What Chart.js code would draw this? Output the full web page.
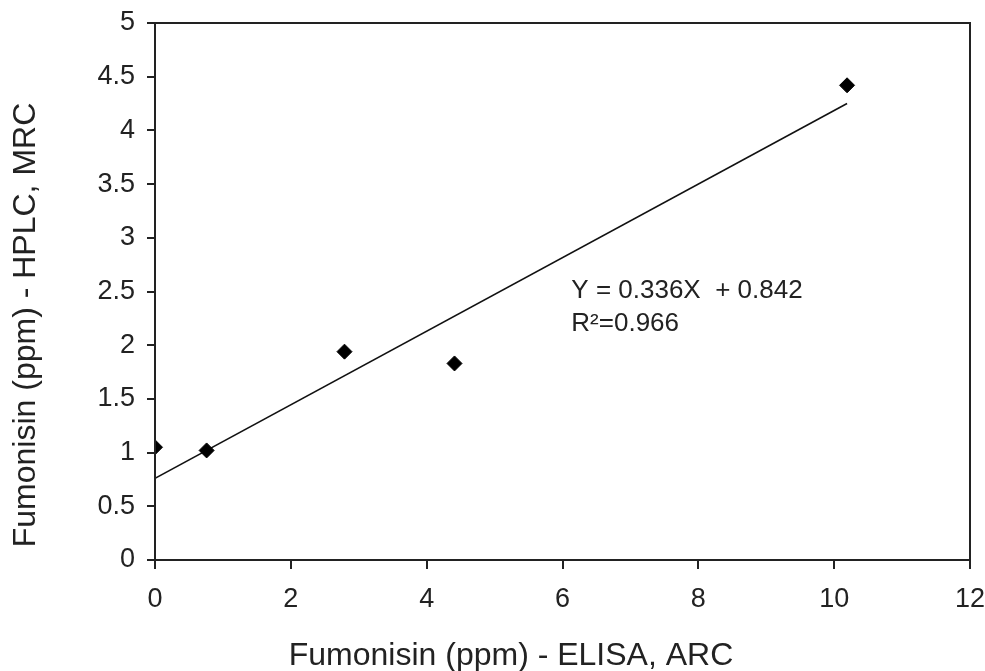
<!DOCTYPE html>
<html>
<head>
<meta charset="utf-8">
<script src="https://cdn.jsdelivr.net/npm/chart.js@4.4.1/dist/chart.umd.min.js"></script>
<style>
html,body{margin:0;padding:0;background:#fff;}
canvas{display:block;}
</style>
</head>
<body>
<canvas id="c" width="985" height="671"></canvas>
<script>
// Data
const elisaX = [0, 0.76, 2.79, 4.41, 10.19];
const hplcY  = [1.05, 1.02, 1.94, 1.83, 4.42];
const trendX = [0, 10.19];
const trendY = [0.76, 4.25];
const xTicks = [0, 2, 4, 6, 8, 10, 12];
const yTicks = [0, 0.5, 1, 1.5, 2, 2.5, 3, 3.5, 4, 4.5, 5];
const xTitle = 'Fumonisin (ppm) - ELISA, ARC';
const yTitle = 'Fumonisin (ppm) - HPLC, MRC';
const eqLines = ['Y = 0.336X  + 0.842', 'R²=0.966'];

const FONT = '"Liberation Sans", Arial, sans-serif';
const INK = '#222';

const framePlugin = {
  id: 'frame',
  afterDatasetsDraw(chart) {
    const {ctx, chartArea: a, scales} = chart;
    ctx.save();
    ctx.strokeStyle = INK;
    ctx.lineWidth = 2;
    ctx.strokeRect(a.left, a.top, a.right - a.left, a.bottom - a.top);
    // equation annotation
    ctx.fillStyle = INK;
    ctx.font = '26px ' + FONT;
    ctx.textAlign = 'left';
    ctx.textBaseline = 'alphabetic';
    const ex = scales.x.getPixelForValue(6.13);
    const ey = scales.y.getPixelForValue(2.44);
    ctx.fillText(eqLines[0], ex, ey);
    ctx.fillText(eqLines[1], ex, ey + 33);
    // axis titles
    ctx.font = '32px ' + FONT;
    ctx.textAlign = 'center';
    ctx.fillText(xTitle, 511, 665);
    ctx.translate(35, 325);
    ctx.rotate(-Math.PI / 2);
    ctx.fillText(yTitle, 0, 0);
    ctx.restore();
  }
};

new Chart(document.getElementById('c'), {
  type: 'scatter',
  data: {
    datasets: [
      {
        label: 'Samples',
        data: elisaX.map((x, i) => ({x: x, y: hplcY[i]})),
        pointStyle: 'rectRot',
        pointRadius: 7.5,
        pointBackgroundColor: '#000',
        pointBorderColor: '#000',
        borderWidth: 1,
        showLine: false,
        order: 1
      },
      {
        label: 'Trend',
        data: trendX.map((x, i) => ({x: x, y: trendY[i]})),
        showLine: true,
        borderColor: '#111',
        borderWidth: 1.6,
        pointRadius: 0,
        fill: false,
        order: 2
      }
    ]
  },
  options: {
    responsive: false,
    animation: false,
    devicePixelRatio: 1,
    layout: {padding: {left: 0, right: 15, top: 23, bottom: 0}},
    plugins: {legend: {display: false}, tooltip: {enabled: false}},
    scales: {
      x: {
        type: 'linear',
        min: 0, max: 12,
        afterBuildTicks(s) { s.ticks = xTicks.map(v => ({value: v})); },
        afterFit(s) { s.height = 111; s.paddingLeft = 0; s.paddingRight = 0; },
        grid: {drawOnChartArea: false, drawTicks: true, tickLength: 9, color: INK, lineWidth: 2},
        border: {display: true, color: INK, width: 2},
        ticks: {color: INK, font: {family: FONT, size: 27}, padding: 14, maxRotation: 0,
                callback: v => String(v)}
      },
      y: {
        type: 'linear',
        min: 0, max: 5,
        afterBuildTicks(s) { s.ticks = yTicks.map(v => ({value: v})); },
        afterFit(s) { s.width = 155; s.paddingTop = 0; s.paddingBottom = 0; },
        grid: {drawOnChartArea: false, drawTicks: true, tickLength: 8, color: INK, lineWidth: 2},
        border: {display: true, color: INK, width: 2},
        ticks: {color: INK, font: {family: FONT, size: 27}, padding: 12,
                callback: v => String(v)}
      }
    }
  },
  plugins: [framePlugin]
});
</script>
</body>
</html>
